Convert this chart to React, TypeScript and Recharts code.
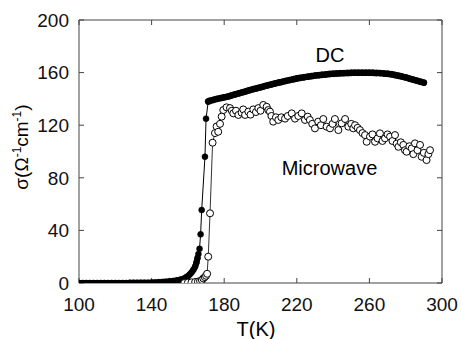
import React from "react";
import { ComposedChart, Line, XAxis, YAxis } from "recharts";

// DC conductivity, T (K) and sigma
const dcT = [
  100, 102, 104, 106, 108, 110, 112, 114, 116, 118, 120, 122, 124, 126, 128, 130, 132, 134, 136, 138,
  140, 142, 144, 146, 148, 150, 152, 154, 156, 158, 159, 160, 161, 162, 163, 164, 164.7, 165.3, 165.8, 166.4,
  167, 167.6, 169.4, 170, 171.2, 172, 174, 176, 178, 180, 182, 184, 186, 188, 190, 192, 194, 196, 198, 200,
  202, 204, 206, 208, 210, 212, 214, 216, 218, 220, 222, 224, 226, 228, 230, 232, 234, 236, 238, 240,
  242, 244, 246, 248, 250, 252, 254, 256, 258, 260, 262, 264, 266, 268, 270, 272, 274, 276, 278, 280,
  282, 284, 286, 288, 290,
];
const dcSigma = [
  0, 0, 0, 0, 0, 0, 0, 0, 0, 0, 0, 0, 0, 0, 0.1, 0.1, 0.1, 0.2, 0.2, 0.2,
  0.3, 0.4, 0.6, 0.8, 1.0, 1.3, 1.6, 2.0, 2.6, 3.5, 4.3, 5.2, 6.5, 8, 10, 12.5, 15.5, 19, 22, 26,
  37, 55.5, 96, 125, 138, 138.5, 139.2, 140, 140.6, 141.2, 141.8, 142.6, 143.4, 144.2, 145, 145.8, 146.6, 147.4, 148.1, 148.8,
  149.6, 150.3, 151, 151.7, 152.4, 153, 153.7, 154.3, 154.9, 155.5, 156, 156.5, 156.9, 157.3, 157.7, 158, 158.3, 158.6, 158.9, 159.1,
  159.3, 159.5, 159.6, 159.7, 159.8, 159.9, 159.9, 159.9, 159.9, 159.9, 159.8, 159.7, 159.6, 159.4, 159.1, 158.7, 158.2, 157.6, 157, 156.3,
  155.5, 154.7, 153.9, 153.1, 152.3,
];

// Microwave conductivity, T (K) and sigma
const mwT = [
  158, 160, 162, 164, 165.5, 166.7, 167.7, 168.5, 169.3, 170, 170.6, 171.2, 172.2, 173.6, 174.9, 175.8, 176.7, 177.7, 178.6, 179.5,
  181.3, 183.2, 184.2, 185, 186.5, 187.8, 189.6, 190.5, 191.5, 193.3, 194.5, 196, 197.5, 198.8, 200, 201.5, 203.4, 204.3, 205.2, 206,
  207, 208.5, 209.8, 211.5, 213.5, 215, 217.2, 219, 220.8, 222.7, 224.5, 226, 227.2, 228.5, 230, 231.8, 233.3, 234.6, 236.4, 238.3,
  239.7, 241, 242.9, 244.7, 246.6, 248.4, 250, 251.1, 252.1, 253.5, 254.8, 256.2, 257.6, 258.5, 260.3, 261.7, 263.1, 264.5, 265.8, 267.2,
  268.6, 270, 271.4, 272.7, 274.1, 275, 276, 277.3, 278.7, 279.6, 280.5, 282, 283.3, 284.2, 285.1, 286.5, 287.9, 288.8, 290, 291.5,
  292.5, 293.4,
];
const mwSigma = [
  0, 0.3, 0.5, 0.8, 1, 1.5, 2.3, 3.5, 4.5, 5.5, 7, 20, 53, 106.7, 114, 119, 115, 121, 126.5, 131.5,
  133.6, 133, 131, 129, 131, 127.8, 129.5, 132, 127.8, 130.3, 128, 132, 130, 133, 131, 135.4, 134, 131.5, 130.3, 127,
  122.7, 126, 124, 126, 125, 127, 129, 125, 127, 129, 124, 126.5, 124, 121, 117.6, 122.7, 120, 124.7, 118.9, 117.6,
  121, 124.7, 116.3, 121.4, 124.7, 118.9, 121, 117.6, 120, 118, 116.3, 114, 112.5, 107.4, 111.3, 113, 107.4, 110, 113.8, 108,
  110, 113, 111.3, 108, 112.5, 106, 103.6, 107, 105, 101, 99.8, 104, 102.4, 98, 106.2, 101, 105, 96, 99, 93.5,
  98, 101,
];

const xTicks = [100, 140, 180, 220, 260, 300];
const yTicks = [0, 40, 80, 120, 160, 200];

const dcData = dcT.map((t, i) => ({ t, s: dcSigma[i] }));
const mwData = mwT.map((t, i) => ({ t, s: mwSigma[i] }));
// the dense DC runs below and above the jump look like one thick stroke
const dcLow = dcData.filter((d) => d.t <= 165.3);
const dcHigh = dcData.filter((d) => d.t >= 171.2);

const FONT = "'Liberation Sans', Arial, Helvetica, sans-serif";
const AXIS = "#444";

export default function App() {
  return (
    <div style={{ position: "absolute", left: 0, top: 0, background: "#fff", fontFamily: FONT }}>
      <ComposedChart width={461} height={339} margin={{ top: 19, right: 18, bottom: 0, left: 0 }}>
        <XAxis
          xAxisId="b"
          type="number"
          dataKey="t"
          domain={[100, 300]}
          ticks={xTicks}
          allowDataOverflow
          height={56}
          stroke={AXIS}
          tickSize={-5}
          tickMargin={20}
          tick={{ fill: "#111", fontSize: 19, fontFamily: FONT }}
        />
        <XAxis
          xAxisId="t"
          orientation="top"
          type="number"
          dataKey="t"
          domain={[100, 300]}
          ticks={xTicks}
          allowDataOverflow
          height={1}
          stroke={AXIS}
          tickSize={-5}
          tickFormatter={() => ""}
        />
        <YAxis
          yAxisId="l"
          type="number"
          domain={[0, 200]}
          ticks={yTicks}
          allowDataOverflow
          width={79}
          stroke={AXIS}
          tickSize={-5}
          tickMargin={15}
          tick={{ fill: "#111", fontSize: 19, fontFamily: FONT }}
        />
        <YAxis
          yAxisId="r"
          orientation="right"
          type="number"
          domain={[0, 200]}
          ticks={yTicks}
          allowDataOverflow
          width={1}
          stroke={AXIS}
          tickSize={-5}
          tickFormatter={() => ""}
        />
        <Line
          xAxisId="b"
          yAxisId="l"
          data={dcLow}
          dataKey="s"
          type="monotone"
          stroke="#000"
          strokeWidth={6}
          strokeLinecap="round"
          dot={false}
          activeDot={false}
          isAnimationActive={false}
        />
        <Line
          xAxisId="b"
          yAxisId="l"
          data={dcHigh}
          dataKey="s"
          type="monotone"
          stroke="#000"
          strokeWidth={6.5}
          strokeLinecap="round"
          dot={false}
          activeDot={false}
          isAnimationActive={false}
        />
        <Line
          xAxisId="b"
          yAxisId="l"
          data={dcData}
          dataKey="s"
          type="linear"
          stroke="#000"
          strokeWidth={1}
          dot={{ r: 3, fill: "#000", stroke: "#000", strokeWidth: 0.5 }}
          activeDot={false}
          isAnimationActive={false}
        />
        <Line
          xAxisId="b"
          yAxisId="l"
          data={mwData}
          dataKey="s"
          type="linear"
          stroke="#000"
          strokeWidth={0.8}
          dot={{ r: 3.5, fill: "#fff", stroke: "#000", strokeWidth: 1 }}
          activeDot={false}
          isAnimationActive={false}
        />
        <text x={330} y={61.5} textAnchor="middle" fontSize={20} fontFamily={FONT} fill="#000">
          DC
        </text>
        <text x={329.5} y={175} textAnchor="middle" fontSize={20} fontFamily={FONT} fill="#000">
          Microwave
        </text>
        <text x={256} y={336} textAnchor="middle" fontSize={20} fontFamily={FONT} fill="#000">
          T(K)
        </text>
        <text
          x={0}
          y={0}
          transform="translate(28,147) rotate(-90)"
          textAnchor="middle"
          fontSize={19}
          fontFamily={FONT}
          fill="#000"
        >
          σ(Ω<tspan fontSize={12} dy={-7}>-1</tspan>
          <tspan dy={7}>cm</tspan>
          <tspan fontSize={12} dy={-7}>-1</tspan>
          <tspan dy={7}>)</tspan>
        </text>
      </ComposedChart>
    </div>
  );
}
